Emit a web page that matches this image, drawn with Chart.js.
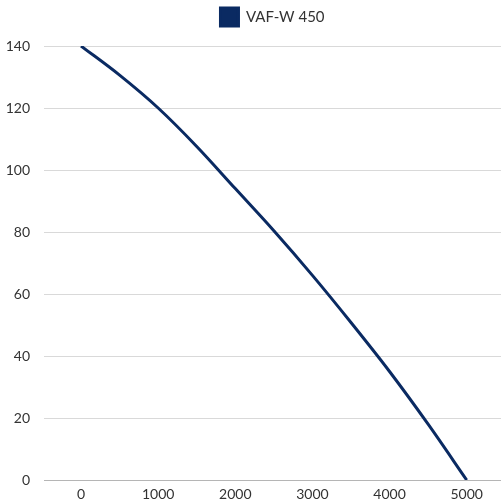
<!DOCTYPE html>
<html>
<head>
<meta charset="utf-8">
<script src="https://cdn.jsdelivr.net/npm/chart.js@4.4.1/dist/chart.umd.min.js"></script>
<style>
html,body{margin:0;padding:0;background:#fff;}
#wrap{width:501px;height:504px;}
</style>
</head>
<body>
<div id="wrap"><canvas id="c"></canvas></div>
<script>
const seriesName = "VAF-W 450";
const airflow = [0, 500, 1000, 1500, 2000, 2500, 3000, 3500, 4000, 4500, 5000];
const pressure = [140, 130.6, 120, 107.6, 94, 80.4, 66, 50.8, 35, 18, 0];
const xTicks = [0, 1000, 2000, 3000, 4000, 5000];
const yTicks = [0, 20, 40, 60, 80, 100, 120, 140];

const font = "Lato, 'Open Sans', sans-serif";
const points = airflow.map((x, i) => ({x: x, y: pressure[i]}));

const legendSpace = {
  id: 'legendSpace',
  beforeInit(chart) {
    const fit = chart.legend.fit;
    chart.legend.fit = function () { fit.call(this); this.height += 10; };
  }
};

new Chart(document.getElementById('c'), {
  type: 'line',
  data: {
    datasets: [{
      label: seriesName,
      data: points,
      borderColor: '#0a2a62',
      backgroundColor: '#0a2a62',
      borderWidth: 3,
      pointRadius: 0,
      cubicInterpolationMode: 'monotone',
      fill: false
    }]
  },
  options: {
    responsive: true,
    maintainAspectRatio: false,
    animation: false,
    layout: {padding: 0},
    plugins: {
      legend: {
        display: true,
        fullSize: false,
        labels: {
          boxWidth: 18, boxHeight: 18, padding: 8,
          color: '#333', font: {family: font, size: 15}
        }
      },
      tooltip: {enabled: false}
    },
    scales: {
      x: {
        type: 'linear',
        min: -480, max: 5445,
        afterBuildTicks: (s) => { s.ticks = xTicks.map(v => ({value: v})); },
        afterFit: (s) => { s.height = 24; },
        grid: {display: false, drawTicks: false},
        border: {display: true, color: '#b5b5b5', width: 1},
        ticks: {color: '#333', font: {family: font, size: 14}, padding: 6, maxRotation: 0, autoSkip: false,
                callback: (v) => String(v)}
      },
      y: {
        type: 'linear',
        min: 0, max: 140,
        afterBuildTicks: (s) => { s.ticks = yTicks.map(v => ({value: v})); },
        afterFit: (s) => { s.width = 44; },
        grid: {color: '#d9d9d9', drawTicks: false},
        border: {display: false},
        ticks: {color: '#333', font: {family: font, size: 14}, padding: 14, callback: (v) => String(v)}
      }
    }
  },
  plugins: [legendSpace]
});
</script>
</body>
</html>
